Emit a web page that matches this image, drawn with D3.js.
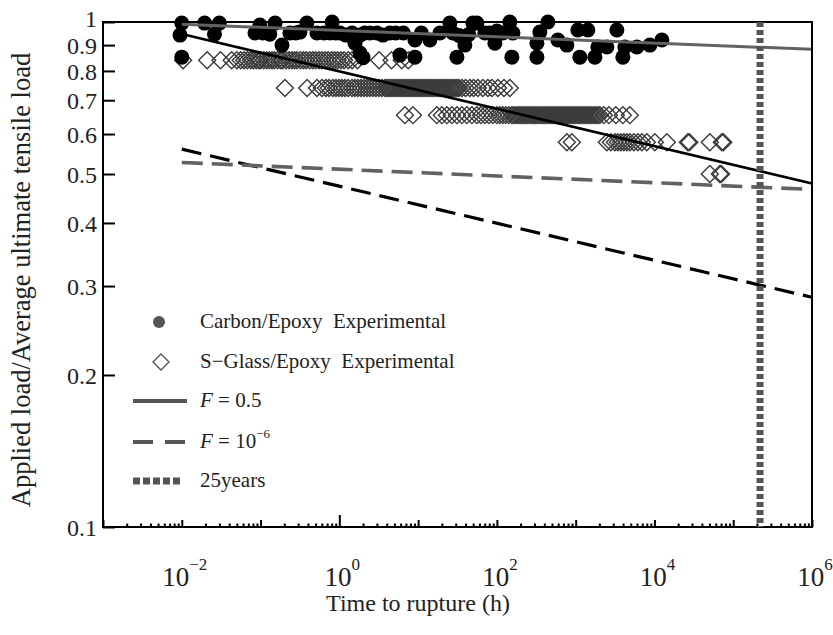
<!DOCTYPE html>
<meta charset="utf-8">
<script src="https://d3js.org/d3.v7.min.js"></script>
<style type="text/css">
body { margin: 0; background: #fff; }
svg text { font-family: "Liberation Serif", "Times New Roman", serif; fill: #222; }
.axis path { display: none; }
.axis line { stroke: #000; stroke-width: 2; }
</style>
<body>
<div id="canvas"></div>
<script>

	// carbon/epoxy experimental points: time to rupture (h) and load ratio
	var carbonTime = [0.01, 0.0095, 0.01, 0.0195, 0.030, 0.026, 0.098, 0.153, 0.107, 0.131,
		0.187, 0.236, 0.316, 0.387, 0.52, 0.638, 0.76, 0.81, 1.02, 1.21,
		1.58, 1.83, 1.83, 2.0, 2.44, 3.0, 3.57, 4.39, 5.87, 9.12,
		9.12, 14.1, 18.9, 25.3, 27.6, 31.1, 39.2, 49.6, 55.7, 70.4,
		94.3, 119, 146, 160, 155, 322, 322, 351, 444, 595,
		773, 1066, 1428, 1130, 1753, 1912, 2489, 3334, 3971, 4210,
		5980, 8750, 12420,
		0.085, 0.28, 0.9, 1.45, 2.1, 5.2, 6.5, 11, 33, 44, 80, 100];
	var carbonLoad = [0.995, 0.942, 0.852, 0.995, 0.995, 0.946, 0.986, 0.995, 0.951, 0.946,
		0.90, 0.951, 0.955, 0.995, 0.951, 0.951, 0.951, 1.0, 0.951, 0.942,
		0.908, 0.942, 0.868, 0.85, 0.951, 0.951, 0.942, 0.951, 0.86, 0.852,
		0.921, 0.921, 0.951, 0.995, 0.951, 0.852, 0.90, 0.995, 0.995, 0.951,
		0.908, 0.951, 1.0, 0.951, 0.852, 0.908, 0.852, 0.955, 1.0, 0.921,
		0.90, 0.964, 0.964, 0.852, 0.852, 0.892, 0.892, 0.964, 0.852, 0.892,
		0.892, 0.90, 0.921,
		0.951, 0.951, 0.951, 0.951, 0.951, 0.951, 0.951, 0.951, 0.94, 0.945, 0.951, 0.96];

	// s-glass/epoxy experimental: one list of times (h) per load level
	var glassLevels = [0.84, 0.74, 0.654, 0.578, 0.5];
	var glassTimes = [
		[0.0104, 0.021, 0.031, 0.043, 0.050, 0.056, 0.062, 0.068, 0.075, 0.081,
		 0.088, 0.095, 0.10, 0.11, 0.12, 0.13, 0.14, 0.15, 0.165, 0.18,
		 0.19, 0.21, 0.23, 0.25, 0.27, 0.29, 0.32, 0.35, 0.38, 0.42,
		 0.46, 0.5, 0.55, 0.6, 0.66, 0.72, 0.8, 0.87, 0.95, 1.05,
		 1.15, 1.3, 1.45, 1.7, 3.2, 4.6, 6.2, 7.5],
		[0.204, 0.39, 0.52, 0.601, 0.676, 0.738, 0.83, 0.906, 0.99, 1.08,
		 1.18, 1.29, 1.45, 1.58, 1.72, 1.88, 2.05, 2.24, 2.44, 2.67,
		 2.91, 3.18, 3.47, 3.79, 4.02, 4.26, 4.52, 4.79, 5.08, 5.39,
		 5.71, 6.06, 6.42, 6.81, 7.22, 7.65, 8.11, 8.6, 9.12, 9.67,
		 10.25, 10.87, 11.52, 12.2, 12.95, 13.7, 14.55, 15.4, 16.35, 17.3,
		 18.4, 19.5, 20.6, 21.9, 23.2, 24.6, 26.1, 27.6, 29.3, 31.1,
		 32.9, 35.9, 40, 45.4, 50.6, 57.4, 66.4, 76.8, 86.4, 103,
		 123, 146],
		[6.8, 8.6, 17.3, 20.0, 23.2, 26.8, 31.1, 35.9, 41.6, 48.2,
		 55.7, 62.6, 70.4, 79.1, 88.9, 100, 109, 119, 130, 142,
		 155, 164, 174, 185, 196, 208, 220, 233, 247, 262,
		 278, 295, 312, 331, 351, 373, 395, 419, 444, 471,
		 499, 529, 561, 595, 630, 668, 708, 751, 796, 844,
		 895, 948, 1006, 1066, 1130, 1198, 1270, 1346, 1428, 1513,
		 1605, 1701, 1803, 1912, 2027, 2278, 2638, 3238, 3971, 4874],
		[773, 895, 2489, 2798, 3141, 3434, 3748, 4093, 4467, 4874,
		 5480, 6152, 6918, 8010, 10120, 14370, 26550, 27730, 50470, 71620,
		 74840],
		[50470, 67600, 70300]
	];

	// fitted lines, load ratio at the two end times
	var fitTime = [0.01, 1e6];
	var carbonHigh = [0.99, 0.883];   // F = 0.5
	var glassHigh = [0.947, 0.479];   // F = 0.5
	var carbonLow = [0.527, 0.466];   // F = 1e-6
	var glassLow = [0.56, 0.285];     // F = 1e-6

	var years25 = 219000;  // 25 years in hours

	var yTicks = [0.1, 0.2, 0.3, 0.4, 0.5, 0.6, 0.7, 0.8, 0.9, 1];
	var xMajors = [1e-3, 1e-2, 1e-1, 1, 10, 100, 1e3, 1e4, 1e5, 1e6];
	var xLabelExp = [-2, 0, 2, 4, 6];

	var width = 833;
	var height = 635;

	var svg = d3.select('#canvas')
		.append("svg")
		.attr("width", width)
		.attr("height", height);

	var x = d3.scaleLog()
		.domain([1e-3, 1e6])
		.range([103, 812]);

	var y = d3.scaleLog()
		.domain([0.1, 1])
		.range([527, 22]);

	var grey = "#626262";

	// eixos ------------------------------------------------------------
	var minors = x.ticks().filter(function(d) { return xMajors.indexOf(d) < 0; });

	svg.append("g")
		.attr("class", "axis")
		.attr("transform", "translate(0," + y(0.1) + ")")
		.call(d3.axisBottom(x).tickValues(minors).tickSize(-3.5).tickFormat(""));

	svg.append("g")
		.attr("class", "axis")
		.attr("transform", "translate(0," + y(0.1) + ")")
		.call(d3.axisBottom(x).tickValues(xMajors).tickSize(-7).tickFormat(""))
		.selectAll(".tick line")
		.attr("y2", function(d) { return d === 1 ? -12 : -7; });

	var yAxis = svg.append("g")
		.attr("class", "axis")
		.attr("transform", "translate(" + x(1e-3) + ",0)")
		.call(d3.axisLeft(y).tickValues(yTicks).tickSize(-12).tickPadding(6)
			.tickFormat(function(d) { return String(d); }));

	yAxis.attr("font-family", null).attr("font-size", null);
	yAxis.selectAll("text")
		.attr("font-size", 24)
		.attr("fill", null)
		.attr("dy", function(d) { return d === 1 ? "0.2em" : "0.34em"; });

	// x labels 10^n
	var xl = svg.append("g").selectAll("text")
		.data(xLabelExp)
		.enter().append("text")
		.attr("x", function(d) { return x(Math.pow(10, d)) + 3; })
		.attr("y", 586)
		.attr("text-anchor", "middle")
		.attr("font-size", 27);
	xl.append("tspan").text("10");
	xl.append("tspan")
		.attr("font-size", 17)
		.attr("dy", -16)
		.text(function(d) { return d < 0 ? "\u2212" + (-d) : d; });

	svg.append("text")
		.attr("x", 418)
		.attr("y", 611)
		.attr("text-anchor", "middle")
		.attr("font-size", 24)
		.text("Time to rupture (h)");

	svg.append("text")
		.attr("transform", "translate(30,280) rotate(-90)")
		.attr("text-anchor", "middle")
		.attr("font-size", 26.5)
		.text("Applied load/Average ultimate tensile load");

	// pontos ------------------------------------------------------------
	var glassPts = [];
	glassLevels.forEach(function(v, i) {
		glassTimes[i].forEach(function(t) { glassPts.push({ t: t, v: v }); });
	});

	var diamond = function(s) {
		return "M0," + (-s) + "L" + s + ",0L0," + s + "L" + (-s) + ",0Z";
	};

	svg.append("g").selectAll("path")
		.data(glassPts)
		.enter().append("path")
		.attr("d", diamond(8.5))
		.attr("transform", function(d) { return "translate(" + x(d.t) + "," + y(d.v) + ")"; })
		.attr("fill", "none")
		.attr("stroke", "#3a3a3a")
		.attr("stroke-width", 1.4);

	svg.append("g").selectAll("circle")
		.data(carbonTime)
		.enter().append("circle")
		.attr("cx", function(d) { return x(d); })
		.attr("cy", function(d, i) { return y(carbonLoad[i]); })
		.attr("r", 7.5)
		.attr("fill", "#000");

	// curvas ajustadas ---------------------------------------------------
	var line = d3.line()
		.x(function(d, i) { return x(fitTime[i]); })
		.y(function(d) { return y(d); });

	var fits = [
		{ v: glassLow, c: "#000", w: 3.2, dash: "20,9" },
		{ v: carbonLow, c: grey, w: 3.6, dash: "21,9" },
		{ v: glassHigh, c: "#000", w: 2.6, dash: null },
		{ v: carbonHigh, c: grey, w: 3, dash: null }
	];

	fits.forEach(function(f) {
		svg.append("path")
			.attr("d", line(f.v))
			.attr("fill", "none")
			.attr("stroke", f.c)
			.attr("stroke-width", f.w)
			.attr("stroke-dasharray", f.dash);
	});

	// moldura
	svg.append("rect")
		.attr("x", x(1e-3))
		.attr("y", y(1))
		.attr("width", x(1e6) - x(1e-3))
		.attr("height", y(0.1) - y(1))
		.attr("fill", "none")
		.attr("stroke", "#000")
		.attr("stroke-width", 2);

	// 25 anos
	svg.append("line")
		.attr("x1", x(years25)).attr("x2", x(years25))
		.attr("y1", y(1)).attr("y2", y(0.1))
		.attr("stroke", "#555")
		.attr("stroke-width", 7)
		.attr("stroke-dasharray", "5,3");

	// legenda -------------------------------------------------------------
	var lg = svg.append("g");
	var ly = [322, 362, 401, 442, 481];

	lg.append("circle").attr("cx", 159).attr("cy", ly[0]).attr("r", 6).attr("fill", "#555");
	lg.append("path").attr("d", diamond(8))
		.attr("transform", "translate(161," + ly[1] + ")")
		.attr("fill", "none").attr("stroke", "#555").attr("stroke-width", 1.4);
	lg.append("line").attr("x1", 133).attr("x2", 187).attr("y1", ly[2]).attr("y2", ly[2])
		.attr("stroke", "#555").attr("stroke-width", 4);
	lg.append("line").attr("x1", 133).attr("x2", 187).attr("y1", ly[3]).attr("y2", ly[3])
		.attr("stroke", "#555").attr("stroke-width", 4).attr("stroke-dasharray", "20,12");
	lg.append("line").attr("x1", 133).attr("x2", 180).attr("y1", ly[4]).attr("y2", ly[4])
		.attr("stroke", "#555").attr("stroke-width", 7).attr("stroke-dasharray", "7,3");

	var txt = function(i) {
		return lg.append("text").attr("x", 200).attr("y", ly[i] + 6).attr("font-size", 21);
	};
	txt(0).text("Carbon/Epoxy\u00a0\u00a0Experimental");
	txt(1).text("S\u2212Glass/Epoxy\u00a0\u00a0Experimental");
	var t2 = txt(2);
	t2.append("tspan").attr("font-style", "italic").text("F");
	t2.append("tspan").text(" = 0.5");
	var t3 = txt(3);
	t3.append("tspan").attr("font-style", "italic").text("F");
	t3.append("tspan").text(" = 10");
	t3.append("tspan").attr("font-size", 13).attr("dy", -10).text("\u22126");
	txt(4).text("25years");

</script>
</body>
